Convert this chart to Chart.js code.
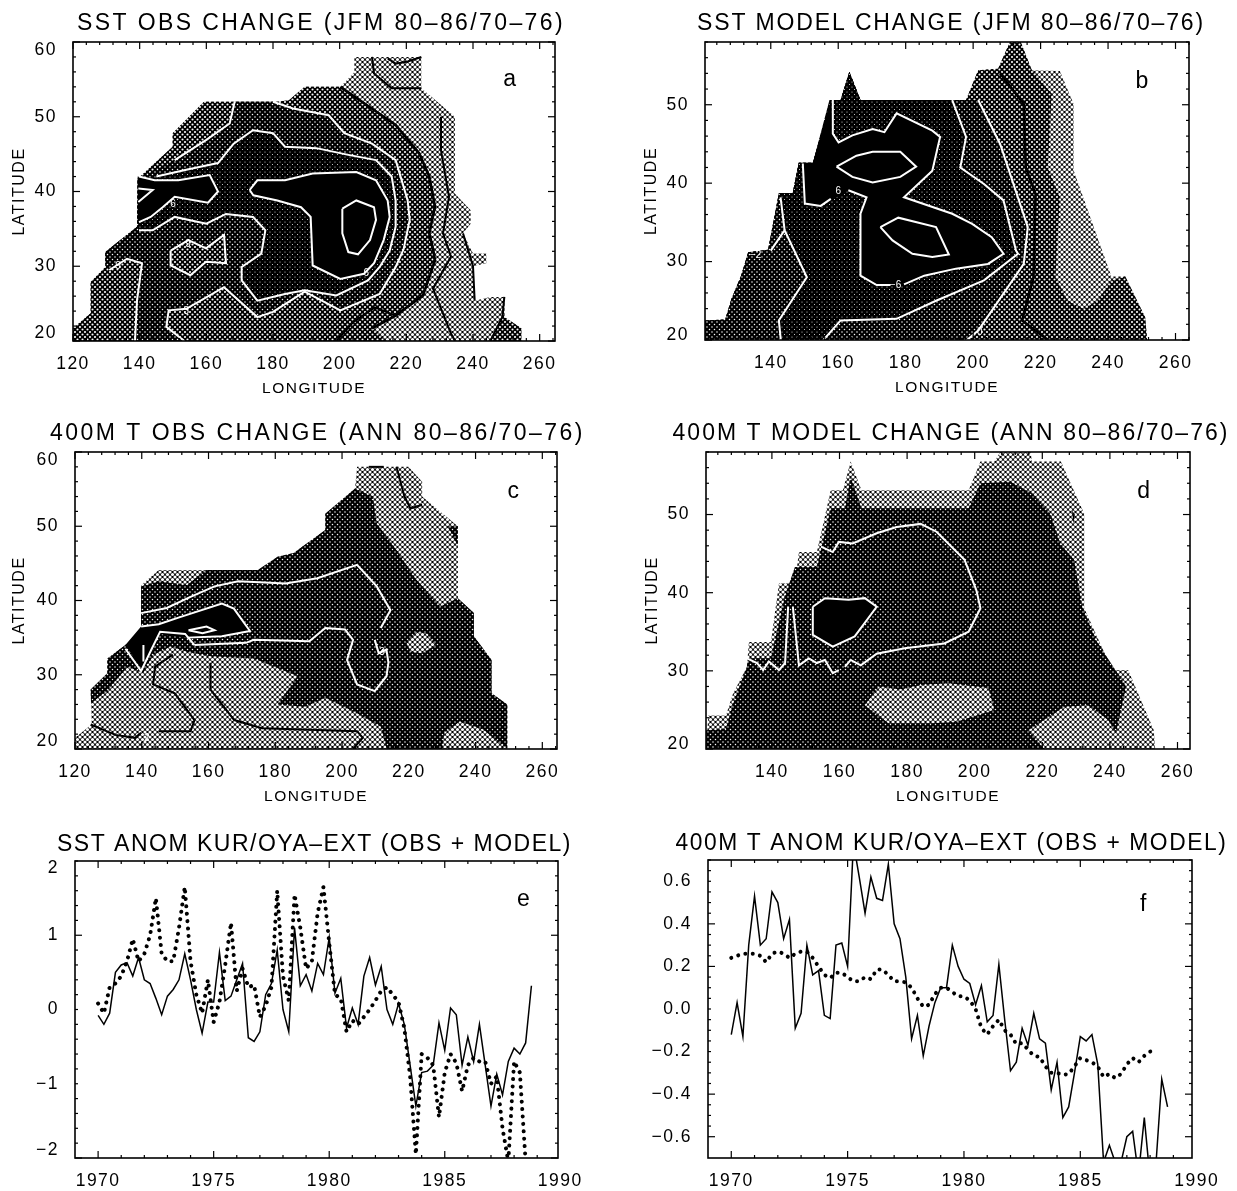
<!DOCTYPE html>
<html>
<head>
<meta charset="utf-8">
<title>SST and 400m T change</title>
<script src="https://cdn.jsdelivr.net/npm/chart.js@4"></script>
<style>
  html, body { margin: 0; padding: 0; background: #fff; overflow: hidden; }
  #page { position: relative; width: 1237px; height: 1191px; overflow: hidden; }
  canvas { position: absolute; }
</style>
</head>
<body>
<div id="page"></div>
<script>
// --- tick labels ---
const lonTicks = [120, 140, 160, 180, 200, 220, 240, 260];
const lonTicksRight = [140, 160, 180, 200, 220, 240, 260];
const latTicksLeft = [20, 30, 40, 50, 60];
const latTicksRight = [20, 30, 40, 50];
const yearTicks = [1970, 1975, 1980, 1985, 1990];
const sstTicks = [-2, -1, 0, 1, 2];
const sstTickLabels = ['\u22122', '\u22121', '0', '1', '2'];
const deepTicks = [-0.6, -0.4, -0.2, 0, 0.2, 0.4, 0.6];
const deepTickLabels = ['\u22120.6', '\u22120.4', '\u22120.2', '0.0', '0.2', '0.4', '0.6'];

// --- panel a: contour regions (lon, lat) ---
const aDomain = [[120,20],[120,21.7],[125.3,23.7],[125.3,27.9],[129.7,29.9],[129.7,31.9],[139.2,35.3],[139.4,41.7],[149.9,46],[149.9,47.8],[159.3,52],[181.3,52],[184.8,52.2],[189.5,54],[200.2,54],[204.4,56],[204.4,58],[224.5,58],[224.5,53.8],[234.6,50],[234.6,39.7],[239.3,37.5],[239.3,35.7],[237,34.4],[240,31.7],[244,31.7],[244,30.4],[240,30],[240.5,25.4],[245.2,25.9],[249.4,25.9],[249.4,23.2],[254.5,21.7],[254.5,20]];
const aLevel2 = [[120,20],[120,21.7],[125.3,23.7],[125.3,27.9],[129.7,29.9],[129.7,31.9],[139.2,35.3],[139.4,41.7],[149.9,46],[149.9,47.8],[159.3,52],[181.3,52],[184.8,52.2],[189.5,54],[200.2,54],[210.3,50.9],[216.8,48.9],[223.9,45.1],[226.9,42],[228.6,38],[226.9,34.4],[228.1,32.1],[228.6,30.8],[225,26.1],[216.8,23.4],[209.7,21.7],[214,20]];
const aBlackEdge = [[200.2,54],[210.3,50.9],[216.8,48.9],[223.9,45.1],[226.9,42],[228.6,38],[226.9,34.4],[228.1,32.1],[228.6,30.8],[225,26.1],[216.8,23.4],[209.7,21.7]];
const aCorner = [[245.2,20],[248.8,23.2],[249.4,25.9],[249.4,23.2],[254.5,21.7],[254.5,20]];
const aLevel3 = [[138.6,20],[139.2,25.4],[140.7,30.4],[136.2,31],[130.9,29.5],[129.7,30.4],[129.7,31.9],[139.2,35.3],[139.4,41.7],[150.5,44.2],[160,46.9],[167,49.1],[168.5,52],[180,52],[186,51.1],[196.7,50.2],[201.4,47.8],[209.7,46.4],[216.8,44.2],[220.4,38.8],[221,36.2],[219.2,32.3],[216.8,29.9],[212,26.3],[200.2,24.1],[189.5,26.6],[180,23.9],[175.3,23.2],[165.3,27.2],[154,24.3],[148.7,24.1],[148,21.9],[153.4,20]];
const aWhiteWest = [[138.6,20],[139.2,25.4],[140.7,30.4],[136.2,31],[130.9,29.5]];
const aWhiteNorth = [[150.5,44.2],[160,46.9],[167,49.1],[168.5,52]];
const aWhiteEast = [[180,52],[186,51.1],[196.7,50.2],[201.4,47.8],[209.7,46.4],[216.8,44.2],[220.4,38.8],[221,36.2],[219.2,32.3],[216.8,29.9],[212,26.3],[200.2,24.1],[189.5,26.6],[180,23.9],[175.3,23.2],[165.3,27.2],[154,24.3],[148.7,24.1],[148,21.9],[153.4,20]];
const aIsland = [[149.3,32.1],[154.6,33.5],[159.9,32.4],[165.3,34.2],[165.9,30.4],[159.9,30.6],[155.2,28.8],[149.3,30.1]];
const aLevel4 = [[139.4,41.7],[145,42],[154,42.9],[163.5,43.8],[168.2,46.4],[174,48.2],[180,47.8],[183.6,46],[193,45.8],[202.6,44.9],[210.9,44.2],[215.6,42],[216.8,38.8],[216.8,35.3],[215,32.1],[212,29.9],[208.5,28.1],[199,26.1],[189.5,26.8],[183.6,26.3],[175.3,25.4],[170.6,28.1],[170.6,29.9],[176.5,31.7],[177.7,34.8],[174,36.6],[165.9,37],[160,35.7],[150.5,36.6],[143.9,34.8],[139.8,34.8]];
const aWhiteLevel4 = [[145,42],[154,42.9],[163.5,43.8],[168.2,46.4],[174,48.2],[180,47.8],[183.6,46],[193,45.8],[202.6,44.9],[210.9,44.2],[215.6,42],[216.8,38.8],[216.8,35.3],[215,32.1],[212,29.9],[208.5,28.1],[199,26.1],[189.5,26.8],[183.6,26.3],[175.3,25.4],[170.6,28.1],[170.6,29.9],[176.5,31.7],[177.7,34.8],[174,36.6],[165.9,37],[160,35.7],[150.5,36.6],[143.9,34.8],[139.8,34.8]];
const aCore = [[173,40.2],[175.3,41.5],[183.6,41.5],[191.9,42.4],[205,42.6],[210.9,41.5],[214.4,38.8],[215,36.6],[213.2,33.5],[210.3,30.4],[207.3,29],[200.2,28.3],[191.9,30.1],[191.3,36.6],[188.4,37.9],[181.3,38.8],[174.1,39.5]];
const aBlob = [[139.4,42],[144.5,41.5],[151.6,41.5],[161,42.2],[163.5,40],[160.5,38.5],[150.5,39.3],[146.9,37.9],[143.3,36.6],[139.4,35.9]];
const aWhiteBlob = [[139.8,42],[144.5,41.5],[151.6,41.5],[161,42.2],[163.5,40],[160.5,38.5],[150.5,39.3],[146.9,37.9],[143.3,36.6],[139.8,35.9]];
const aInner = [[200.8,37.7],[205,38.8],[210.3,37.9],[210.9,36.2],[209.1,33.5],[205.5,31.6],[202.6,31.9],[200.8,34.4]];
const aWedge = [[139.6,40.4],[143.9,40.2],[139.6,38.6]];
const aEastLine = [[230.4,50],[230.4,45.5],[232.8,39.3],[231,34.4],[233.4,31.3],[228,27],[233.4,21],[234.6,20]];
const aNorthLine1 = [[209.7,58],[210.3,55.8],[215.6,53.8],[224.5,53.8]];
const aNorthLine2 = [[214.4,57.8],[216.8,57.1],[220.4,57.4],[224.5,58]];
const aSouthLine = [[199,20],[204,22.5],[210.5,24.5],[216.8,23.4]];
const aCoastLine = [[237,34.4],[240,30],[240.5,25.4]];
const aSeLine = [[245.2,20],[248.8,23.2],[249.4,25.9]];
const aTexts = [[150,38.3,'6'],[154.5,33,'9'],[133.5,30,'9'],[154,24,'3'],[208,29,'6']];

// --- panel b ---
const bDomain = [[120.5,19.9],[120.5,22.5],[126.5,22.6],[128.3,25.2],[131.2,28.2],[133.3,31.2],[139.2,31.5],[142.4,38.7],[146.5,38.7],[148.3,42.6],[152.5,42.6],[157.8,50.6],[160.7,50.6],[163.3,54.2],[166.6,50.6],[197.9,50.6],[201.5,54.4],[207.4,54.6],[210.9,58],[214.1,58],[217.4,54.4],[225.7,54.3],[229.8,50.1],[229.8,41.6],[241,28.1],[245.1,28.1],[251,22.9],[251.6,19.9]];
const bLevel2 = [[120.5,19.9],[120.5,22.5],[126.5,22.6],[128.3,25.2],[131.2,28.2],[133.3,31.2],[139.2,31.5],[142.4,38.7],[146.5,38.7],[148.3,42.6],[152.5,42.6],[157.8,50.6],[160.7,50.6],[163.3,54.2],[166.6,50.6],[197.9,50.6],[201.5,54.4],[207.4,54.6],[210.9,58],[214.1,58],[217.4,54.4],[223.3,51.4],[222.1,42],[225.7,38.2],[224.4,28],[228,25],[232.7,24],[236.9,25],[241,27.6],[245.1,28.1],[251,22.9],[251.6,19.9]];
const bLevel3 = [[120.5,19.9],[120.5,22.5],[126.5,22.6],[128.3,25.2],[131.2,28.2],[133.3,31.2],[139.2,31.5],[142.4,38.7],[146.5,38.7],[148.3,42.6],[152.5,42.6],[157.8,50.6],[160.7,50.6],[163.3,54.2],[166.6,50.6],[201.5,50.6],[208,45],[216.2,34.4],[215,29.7],[201.5,21.2],[197.9,19.9]];
const bLevel4 = [[193.8,50.6],[197.9,45.9],[196.2,42],[203.2,39.9],[209,37.8],[212.7,31.4],[213.3,31],[203.2,27.6],[189,25],[177.3,22.7],[160.7,22.5],[155.4,19.9],[143,19.9],[142.4,22.5],[150.7,28],[144.1,34],[142.4,38.7],[146.5,38.7],[148.3,42.6],[152.5,42.6],[157.4,50.6],[160.7,50.6],[163.3,54.2],[166.6,50.6]];
const bCore = [[157.8,50.6],[158.4,46.3],[160.1,45.2],[164.2,46.1],[170.2,46.9],[173.7,46.5],[177.3,48.9],[187.9,46.7],[190.2,45.9],[187.9,41.6],[179.5,38.2],[193.8,36.1],[199.7,34.8],[205.5,33.1],[209,31],[204.4,29.7],[194.9,29.1],[185.5,28.2],[179.5,27.1],[171.4,27],[166.6,28.2],[166.6,36.1],[168.4,38.2],[163,39.1],[159.5,38.2],[154.8,37.1],[150.1,37.4],[149.5,42.5],[152.5,42.6]];
const bWhiteCore = [[158.4,50.6],[158.4,46.3],[160.1,45.2],[164.2,46.1],[170.2,46.9],[173.7,46.5],[177.3,48.9],[187.9,46.7],[190.2,45.9],[187.9,41.6],[179.5,38.2],[193.8,36.1],[199.7,34.8],[205.5,33.1],[209,31],[204.4,29.7],[194.9,29.1],[185.5,28.2],[179.5,27.1]];
const bWhiteCore2 = [[175.5,27],[171.4,27],[166.6,28.2],[166.6,36.1],[168.4,38.2],[163,39.1]];
const bWhiteCore3 = [[157.8,38],[154.8,37.1],[150.1,37.4],[149.5,42.5]];
const bLensUpper = [[159.5,42.1],[165.4,43.5],[170.2,44],[178.4,44],[183.1,42.1],[178.4,40.8],[170.2,40.1],[164.2,40.8]];
const bLensLower = [[172.5,34.4],[177.8,35.6],[189,34.4],[192.8,30.9],[187.9,30.6],[182,31],[176.1,32.7]];
const bBlackLine = [[208,54],[215,50.1],[215.6,42],[218.5,38.6],[217.9,28],[214.5,22.5],[222.2,20]];
const bWhite1 = [[201.5,50.6],[208,45],[216.2,34.4],[215,29.7],[201.5,21.2],[197.9,19.9]];
const bWhite2 = [[193.8,50.6],[197.9,45.9],[196.2,42],[203.2,39.9],[209,37.8],[212.7,31.4],[213.3,31],[203.2,27.6],[189,25],[177.3,22.7],[160.7,22.5],[155.4,19.9]];
const bWhite3 = [[143,19.9],[142.4,22.5],[150.7,28],[144.1,34],[140,31.4]];
const bWhite4 = [[144.1,34],[142.9,38.2]];
const bTexts = [[160,39,'6'],[177,27,'\u22126'],[202,21,'0'],[135.5,30.8,'\u22122']];

// --- panel c ---
const cDomain = [[120,20],[120,21.5],[125,23.3],[124.7,28],[129.7,30.2],[129.7,32.2],[139.8,35.6],[139.8,42.1],[145.1,44.1],[174.8,44.1],[180.7,45.9],[185.5,46.4],[195,49.5],[195,51.7],[203.9,55.1],[204.5,58],[219.9,58],[224,56],[224,54],[234.7,50],[234.7,40.3],[239.5,38.3],[239.5,35.2],[244.8,32],[244.8,27.5],[249.5,26],[249.5,20]];
const cLevel2 = [[124.8,26.2],[129.7,27.8],[135.7,31.1],[140.4,30.2],[143.4,32.7],[148.7,33.8],[153.5,33.1],[160.6,32.5],[173.6,32.2],[186.7,29.8],[180.7,26],[189,25.7],[195,26.9],[204.5,24.8],[211.6,23],[213.4,20],[230,20],[230.6,22.2],[235.3,23.7],[242.4,22.6],[249.5,20],[249.5,26],[244.8,27.5],[244.8,32],[239.5,35.2],[239.5,38.3],[234.7,40.3],[229.4,39.2],[222.3,42.8],[216.3,46.8],[210.4,50.4],[209.2,54],[203.9,55.1],[195,51.7],[195,49.5],[185.5,46.4],[180.7,45.9],[174.8,44.1],[159.4,44.1],[153.5,42.1],[145.1,42.6],[139.8,41.9],[139.8,35.6],[129.7,32.2],[129.7,30.2],[124.7,28]];
const cIsland = [[219.3,34.3],[222.3,35.8],[225.2,35.6],[228.2,34],[224,32.9],[220.5,33.1]];
const cNotch = [[231.7,50],[234.7,50],[234.7,47.3]];
const cLevel3 = [[139.8,38.3],[147.5,39],[154.6,40.5],[161.8,41.9],[168.9,42.6],[183.1,42.3],[192.6,43],[204.5,44.8],[210.4,41.9],[214.5,38.7],[211.6,36.3],[209.8,34.7],[211,32.9],[213.3,33.4],[213.9,31.6],[213.3,29.8],[209.8,27.8],[204.5,28.7],[201.5,32],[203.3,34.7],[200.9,36.1],[195,36.3],[190.2,34.5],[173.6,34.7],[171.2,34.3],[155.8,34],[153.5,35],[145.1,35.5],[139.8,36.5]];
const cCore = [[139.8,36.5],[145.1,36.8],[151,37.7],[164,39.6],[167.6,38.9],[172.4,35.9],[164,35.2],[153.5,35],[145.1,35.5],[143,33],[139.8,30.9],[135.1,34]];
const cWhiteNorth = [[139.8,38.3],[147.5,39],[154.6,40.5],[161.8,41.9],[168.9,42.6],[183.1,42.3],[192.6,43],[204.5,44.8],[210.4,41.9],[214.5,38.7],[211.6,36.3]];
const cWhiteSouth = [[209.8,34.7],[211,32.9],[213.3,33.4],[213.9,31.6],[213.3,29.8],[209.8,27.8],[204.5,28.7],[201.5,32],[203.3,34.7],[200.9,36.1],[195,36.3],[190.2,34.5],[173.6,34.7],[171.2,34.3],[155.8,34]];
const cWhiteCore = [[139.8,36.5],[145.1,36.8],[151,37.7],[164,39.6],[167.6,38.9],[172.4,35.9],[164,35.2],[153.5,35]];
const cWhiteTongue = [[135.1,33.5],[139.8,30.5],[143,33.5],[145.5,35.8],[153,35.5],[155.8,34]];
const cWhiteSpike = [[140.5,34],[140.5,31.8]];
const cWhiteRing = [[154,36],[159.4,36.5],[161.8,36],[158.2,35.6],[154,36]];
const cBlack1 = [[149.3,32.7],[144,31.1],[143.4,28.7],[149.9,27.5],[155.8,23.9],[154.6,22.4],[145.1,22.4]];
const cBlack2 = [[160.6,31.6],[160.6,28],[167.7,23.9],[176,22.8],[204.5,22.4],[206.2,21.5],[203.3,20]];
const cBlack3 = [[124.7,23.3],[132.1,21.9],[138,21.5],[139.8,22.2]];
const cBlack4 = [[208,58],[212.5,58]];
const cBlack5 = [[216.3,58],[218.7,54],[220.5,52.4],[224,52.9]];
const cTexts = [[141.5,21.5,'2'],[212,33,'3']];

// --- panel d ---
const dDomain = [[120.5,20],[121.2,24.3],[126.4,24.3],[128.5,27.1],[132.6,30.5],[133.2,33.7],[139.7,33.7],[142.1,41.2],[146.8,41.2],[148,45.2],[153.3,45.2],[157.4,53.1],[161,53.1],[163.3,56.8],[166.5,53.1],[198.2,53.1],[201.7,56.8],[205.8,56.8],[207.6,58],[216.5,58],[217,56.8],[225.5,56.8],[232.4,50.1],[232.4,38],[240.7,30.1],[245.4,30.1],[253,22.4],[253.4,20]];
const dLevel2 = [[120.5,20],[120.5,22.4],[126.4,22.6],[128.5,25.8],[132.6,30.5],[133,31.6],[139.7,31.6],[143.8,39.5],[146.8,43.3],[153.3,43.3],[157.4,50.8],[161.6,50.8],[163.3,54.8],[166.5,50.8],[198.2,50.8],[201.7,54],[210.6,54.2],[217,52.7],[222.4,50.1],[225.3,46.3],[229.4,44.2],[231.8,38.2],[235.9,33.9],[244.8,28],[241.8,22],[239.5,23.7],[233.6,25.6],[226.5,25.4],[215.9,22.4],[220.6,20]];
const dIsland = [[167.5,25.6],[171.6,28],[178,27.6],[184,28.2],[192.3,28.4],[204.1,27.8],[205.8,25],[194.6,23.5],[187.5,23.3],[174.5,23.3]];
const dCore = [[152.1,38.2],[155.7,39.3],[162.7,39.1],[167.5,39.3],[171,38.2],[164.5,34.4],[158,33.1],[152.1,34.6]];
const dSpot = [[228.8,50.5],[229.6,50],[229.2,48.8]];
const dWhiteLine = [[154.5,45.9],[158,45.2],[159.8,46.5],[163.9,46.3],[171,47.6],[176.9,48.4],[184,48.8],[188.7,47.8],[197,44.2],[200.5,40.3],[201.7,38],[198.2,35],[191,33.5],[179.3,32.9],[171,32.2],[166.3,30.7],[163.3,31.4],[161.6,30.5]];
const dWhiteSquiggle = [[159.8,30.1],[158,29.7],[155.7,31.4],[153.3,31],[150.9,31.6],[148,30.7],[146.2,38.2]];
const dWhiteSquiggle2 = [[144.8,38.2],[143.9,31],[142.1,30.1],[139.1,31.2],[137.4,30.1],[135.6,31],[132.6,31.6]];

// --- panel e: quarterly anomalies ---
const quarters = [1970,1970.25,1970.5,1970.75,1971,1971.25,1971.5,1971.75,1972,1972.25,1972.5,1972.75,1973,1973.25,1973.5,1973.75,1974,1974.25,1974.5,1974.75,1975,1975.25,1975.5,1975.75,1976,1976.25,1976.5,1976.75,1977,1977.25,1977.5,1977.75,1978,1978.25,1978.5,1978.75,1979,1979.25,1979.5,1979.75,1980,1980.25,1980.5,1980.75,1981,1981.25,1981.5,1981.75,1982,1982.25,1982.5,1982.75,1983,1983.25,1983.5,1983.75,1984,1984.25,1984.5,1984.75,1985,1985.25,1985.5,1985.75,1986,1986.25,1986.5,1986.75,1987,1987.25,1987.5,1987.75,1988,1988.25,1988.5,1988.75];
const sstObs = [-0.08,-0.2,-0.05,0.5,0.6,0.63,0.45,0.7,0.4,0.35,0.15,-0.07,0.18,0.27,0.4,0.75,0.4,0,-0.32,0.1,0.1,0.77,0.12,0.18,0.4,0.62,-0.38,-0.43,-0.3,0.2,0.35,0.8,0,-0.3,1.1,0.32,0.47,0.25,0.62,0.47,0.97,0.22,0.42,-0.25,0.02,-0.2,0.45,0.7,0.33,0.58,0,-0.2,0.08,-0.2,-0.75,-1.3,-0.85,-0.83,-0.75,-0.18,-0.55,0.02,-0.07,-0.75,-0.37,-0.7,-0.2,-0.75,-1.3,-0.87,-1.15,-0.7,-0.52,-0.6,-0.45,0.32];
const sstModel = [0.08,-0.05,0.3,0.35,0.45,0.65,0.95,0.65,0.75,1,1.5,0.75,0.65,0.65,1.1,1.65,0.65,0.2,-0.05,0.4,-0.17,0.1,0.6,1.17,0.25,0.55,0.3,0.33,-0.1,0.05,0.3,1.6,0.45,0.12,1.55,1.1,0.55,0.65,1.3,1.65,0.9,0.2,0.15,-0.3,-0.15,-0.2,-0.1,0,0.12,0.25,0.3,0.2,0.1,-0.25,-0.9,-1.95,-0.6,-0.65,-0.75,-1.45,-0.85,-0.6,-0.72,-1.1,-0.75,-0.65,-0.7,-0.7,-1,-0.9,-1.6,-2.05,-0.7,-0.85,-2.05];

// --- panel f ---
const deepObs = [-0.12,0.03,-0.13,0.3,0.53,0.3,0.33,0.55,0.5,0.33,0.42,-0.09,-0.02,0.3,0.16,0.18,-0.03,-0.045,0.3,0.31,0.2,0.78,0.62,0.45,0.62,0.52,0.51,0.68,0.4,0.33,0.15,-0.14,-0.03,-0.22,-0.08,0.03,0.1,0.1,0.3,0.2,0.14,0.12,0.02,0.11,-0.06,-0.03,0.21,-0.05,-0.29,-0.25,-0.09,-0.17,-0.02,-0.14,-0.16,-0.38,-0.25,-0.51,-0.46,-0.3,-0.13,-0.15,-0.12,-0.26,-0.72,-0.64,-0.72,-0.72,-0.6,-0.575,-0.78,-0.51,-0.8,-0.73,-0.33,-0.46];
const deepModel = [0.24,0.25,0.26,0.26,0.26,0.25,0.22,0.26,0.27,0.26,0.24,0.26,0.27,0.27,0.24,0.2,0.16,0.145,0.17,0.17,0.15,0.13,0.13,0.15,0.14,0.185,0.185,0.16,0.13,0.13,0.125,0.1,0.05,0.01,0.02,0.07,0.1,0.1,0.08,0.06,0.06,0.04,0,-0.09,-0.12,-0.08,-0.05,-0.1,-0.12,-0.165,-0.16,-0.19,-0.22,-0.225,-0.27,-0.3,-0.3,-0.31,-0.305,-0.27,-0.23,-0.24,-0.25,-0.27,-0.32,-0.305,-0.325,-0.305,-0.26,-0.23,-0.25,-0.22,-0.2,-0.19];

// halftone screens, lightest first
function screen(r) {
  const c = document.createElement('canvas');
  c.width = c.height = 5;
  const g = c.getContext('2d');
  g.fillStyle = '#000';
  g.fillRect(0, 0, 5, 5);
  g.fillStyle = '#fff';
  [[0, 0], [5, 0], [0, 5], [5, 5], [2.5, 2.5]].forEach(([x, y]) => {
    g.beginPath();
    g.arc(x, y, r, 0, Math.PI * 2);
    g.fill();
  });
  return g.createPattern(c, 'repeat');
}
const L1 = screen(1.55), L2 = screen(1.05), L3 = screen(0.78), L4 = screen(0.5), SOLID = '#000';

const pts = arr => arr.map(([x, y]) => ({ x, y }));
const closed = arr => pts(arr.concat([arr[0]]));

function area(arr, bg, stroke) {
  return { data: closed(arr), backgroundColor: bg, fill: 'shape', showLine: true, pointRadius: 0,
           borderColor: stroke || 'transparent', borderWidth: stroke ? 2 : 0 };
}
function contour(arr, color, width) {
  return { data: pts(arr), borderColor: color, borderWidth: width || 2, fill: false, showLine: true, pointRadius: 0 };
}
function series(ys, dotted) {
  const data = ys.map((y, i) => ({ x: quarters[i], y }));
  return dotted
    ? { data, borderColor: '#000', borderWidth: 4, borderDash: [0.01, 7.4], borderCapStyle: 'round', fill: false, showLine: true, pointRadius: 0 }
    : { data, borderColor: '#000', borderWidth: 1.5, fill: false, showLine: true, pointRadius: 0 };
}

// inward ticks on all four sides, frame, panel letter and contour labels
const framePlugin = {
  id: 'frame',
  beforeDraw(chart) {
    chart.ctx.letterSpacing = '1.5px';
  },
  afterLayout(chart) {
    // title text is spread out to the width it has in the figure
    const t = chart.titleBlock, p = chart.options.plugins.frame;
    if (!t || t.spread) return;
    t.spread = true;
    const draw = t.draw;
    t.draw = function () {
      const c = this.ctx;
      c.save();
      c.font = '23px "Liberation Sans"';
      c.letterSpacing = '0px';
      const text = this.options.text;
      const w = c.measureText(text).width;
      c.letterSpacing = ((p.titleSpan[1] - p.titleSpan[0] - w) / text.length) + 'px';
      c.translate((p.titleSpan[0] + p.titleSpan[1]) / 2 - p.boxCenter, 0);
      draw.call(this);
      c.restore();
    };
  },
  afterDatasetsDraw(chart) {
    const p = chart.options.plugins.frame;
    const { ctx, chartArea: a, scales: { x, y } } = chart;
    ctx.save();
    ctx.strokeStyle = '#000';
    ctx.lineWidth = 1.6;
    ctx.strokeRect(a.left, a.top, a.right - a.left, a.bottom - a.top);
    ctx.lineWidth = 1.2;
    const tick = (x0, y0, x1, y1) => { ctx.beginPath(); ctx.moveTo(x0, y0); ctx.lineTo(x1, y1); ctx.stroke(); };
    for (let v = p.xFrom; v <= x.max; v += p.xStep) {
      const len = Math.abs((v - p.xFrom) / p.xStep % p.xEvery) < 1e-6 ? 7 : 3;
      const px = x.getPixelForValue(v);
      if (v < x.min) continue;
      tick(px, a.bottom, px, a.bottom - len);
      tick(px, a.top, px, a.top + len);
    }
    for (let v = p.yFrom; v <= y.max + 1e-6; v += p.yStep) {
      const len = Math.abs(((v - p.yFrom) / p.yStep) % p.yEvery) < 1e-6 ? 7 : 3;
      const py = y.getPixelForValue(v);
      tick(a.left, py, a.left + len, py);
      tick(a.right, py, a.right - len, py);
    }
    ctx.textAlign = 'center';
    ctx.textBaseline = 'middle';
    ctx.letterSpacing = '0px';
    ctx.fillStyle = '#000';
    ctx.font = '23px "Liberation Sans"';
    ctx.fillText(p.letter[0], x.getPixelForValue(p.letter[1]), y.getPixelForValue(p.letter[2]));
    ctx.fillStyle = '#fff';
    ctx.font = '10px "Liberation Sans"';
    (p.texts || []).forEach(([lon, lat, t]) => ctx.fillText(t, x.getPixelForValue(lon), y.getPixelForValue(lat)));
    ctx.restore();
  }
};

const panels = [
  { title: 'SST OBS CHANGE (JFM 80\u201386/70\u201376)', left: 0, width: 620, plot: [73, 555, 42, 341], titleSpan: [77, 565], titleTop: 8,
    xr: [120, 264.6], yr: [20, 60], xt: lonTicks, yt: latTicksLeft, nudge: 1.1, xTitle: 'LONGITUDE', yTitle: 'LATITUDE',
    frame: { xFrom: 120, xStep: 4, xEvery: 5, yFrom: 20, yStep: 2, yEvery: 5, letter: ['a', 251, 55], texts: aTexts },
    layers: [area(aDomain, L1), area(aLevel2, L2), area(aCorner, L2), area(aLevel3, L3), area(aIsland, L2, '#fff'), area(aLevel4, L4), area(aCore, SOLID, '#fff'), area(aBlob, SOLID), area(aInner, SOLID, '#fff'),
      contour(aWhiteWest, '#fff'), contour(aWhiteNorth, '#fff'), contour(aWhiteEast, '#fff'), contour(aWhiteLevel4, '#fff'), contour(aWhiteBlob, '#fff'), contour(aWedge, '#fff'),
      contour(aBlackEdge, '#000', 2.6), contour(aEastLine, '#000', 2), contour(aNorthLine1, '#000', 2), contour(aNorthLine2, '#000', 2), contour(aSouthLine, '#000', 2), contour(aCoastLine, '#000', 2), contour(aSeLine, '#000', 2)] },
  { title: 'SST MODEL CHANGE (JFM 80\u201386/70\u201376)', left: 632, width: 605, plot: [705, 1189, 42, 340], titleSpan: [697, 1205], titleTop: 8,
    xr: [120.5, 264], yr: [20, 58], xt: lonTicksRight, yt: latTicksRight, nudge: 0.6, xTitle: 'LONGITUDE', yTitle: 'LATITUDE',
    frame: { xFrom: 120, xStep: 4, xEvery: 5, yFrom: 20, yStep: 2, yEvery: 5, letter: ['b', 250, 52.9], texts: bTexts },
    layers: [area(bDomain, L1), area(bLevel2, L2), area(bLevel3, L3), area(bLevel4, L4), area(bCore, SOLID), area(bLensUpper, SOLID, '#fff'), area(bLensLower, SOLID, '#fff'),
      contour(bWhiteCore, '#fff'), contour(bWhiteCore2, '#fff'), contour(bWhiteCore3, '#fff'),
      contour(bBlackLine, '#000', 2.5), contour(bWhite1, '#fff'), contour(bWhite2, '#fff'), contour(bWhite3, '#fff'), contour(bWhite4, '#fff')] },
  { title: '400M T OBS CHANGE (ANN 80\u201386/70\u201376)', left: 0, width: 620, plot: [75, 557, 452, 749], titleSpan: [50, 585], titleTop: 8,
    xr: [120, 264.4], yr: [20, 60], xt: lonTicks, yt: latTicksLeft, nudge: 1.1, xTitle: 'LONGITUDE', yTitle: 'LATITUDE',
    frame: { xFrom: 120, xStep: 4, xEvery: 5, yFrom: 20, yStep: 2, yEvery: 5, letter: ['c', 251.3, 54.7], texts: cTexts },
    layers: [area(cDomain, L1), area(cLevel2, L3), area(cIsland, L1), area(cNotch, L3), area(cLevel3, L3), area(cCore, SOLID),
      contour(cWhiteNorth, '#fff'), contour(cWhiteSouth, '#fff'), contour(cWhiteCore, '#fff'), contour(cWhiteTongue, '#fff'), contour(cWhiteSpike, '#fff'), contour(cWhiteRing, '#fff'),
      contour(cBlack1, '#000', 2), contour(cBlack2, '#000', 2), contour(cBlack3, '#000', 2), contour(cBlack4, '#000', 2), contour(cBlack5, '#000', 2)] },
  { title: '400M T MODEL CHANGE (ANN 80\u201386/70\u201376)', left: 633, width: 604, plot: [706, 1190, 452, 749], titleSpan: [672, 1230], titleTop: 8,
    xr: [120.5, 263.7], yr: [20, 58], xt: lonTicksRight, yt: latTicksRight, nudge: 0.6, xTitle: 'LONGITUDE', yTitle: 'LATITUDE',
    frame: { xFrom: 120, xStep: 4, xEvery: 5, yFrom: 20, yStep: 2, yEvery: 5, letter: ['d', 250, 52.9] },
    layers: [area(dDomain, L1), area(dLevel2, L3), area(dIsland, L1), area(dCore, SOLID, '#fff'), area(dSpot, SOLID),
      contour(dWhiteLine, '#fff'), contour(dWhiteSquiggle, '#fff'), contour(dWhiteSquiggle2, '#fff')] },
  { title: 'SST ANOM KUR/OYA\u2013EXT (OBS + MODEL)', left: 0, width: 620, plot: [75, 558, 861, 1158], titleSpan: [57, 572], titleTop: 10,
    xr: [1969, 1989.9], yr: [-2, 2], xt: yearTicks, yt: sstTicks, ytLabels: sstTickLabels, nudge: 0.1,
    frame: { xFrom: 1970, xStep: 1, xEvery: 5, yFrom: -2, yStep: 0.2, yEvery: 5, letter: ['e', 1988.4, 1.48] },
    layers: [series(sstObs), series(sstModel, true)] },
  { title: '400M T ANOM KUR/OYA\u2013EXT (OBS + MODEL)', left: 640, width: 597, plot: [708, 1192, 860, 1158], titleSpan: [673, 1230], titleTop: 10,
    xr: [1969, 1989.8], yr: [-0.7, 0.7], xt: yearTicks, yt: deepTicks, ytLabels: deepTickLabels, nudge: 0,
    frame: { xFrom: 1970, xStep: 1, xEvery: 5, yFrom: -0.6, yStep: 0.05, yEvery: 4, letter: ['f', 1987.7, 0.49] },
    layers: [series(deepObs), series(deepModel, true)] }
];

const TITLE_H = 40, AXIS_H = 57;
panels.forEach(p => {
  const [pl, pr, pt, pb] = p.plot;
  const canvas = document.createElement('canvas');
  canvas.width = p.width;
  canvas.height = TITLE_H + (pb - pt) + AXIS_H;
  canvas.style.left = p.left + 'px';
  canvas.style.top = (pt - TITLE_H) + 'px';
  document.getElementById('page').appendChild(canvas);

  const n = p.layers.length;
  p.layers.forEach((d, i) => { d.order = n - i; });

  // titleSpan in canvas coordinates, and the centre the title box would use by itself
  p.frame.titleSpan = [p.titleSpan[0] - p.left, p.titleSpan[1] - p.left];
  p.frame.boxCenter = (pr - p.left) / 2;

  new Chart(canvas, {
    type: 'scatter',
    data: { datasets: p.layers },
    plugins: [framePlugin],
    options: {
      responsive: false,
      animation: false,
      layout: { padding: { right: p.left + p.width - pr } },
      plugins: {
        legend: { display: false },
        tooltip: { enabled: false },
        title: { display: true, text: p.title, color: '#000', font: { family: 'Liberation Sans', size: 23, weight: 'normal', lineHeight: 1.2 }, padding: { top: p.titleTop, bottom: 40 - 27.6 - p.titleTop } },
        frame: p.frame
      },
      scales: {
        x: {
          type: 'linear', min: p.xr[0], max: p.xr[1],
          grid: { display: false }, border: { display: false },
          afterBuildTicks: ax => { ax.ticks = p.xt.map(value => ({ value })); },
          afterFit: ax => { ax.height = AXIS_H; },
          ticks: { autoSkip: false, maxRotation: 0, padding: 5, color: '#000', font: { family: 'Liberation Sans', size: 17.5 }, callback: v => String(v) },
          title: { display: !!p.xTitle, text: p.xTitle, color: '#000', font: { family: 'Liberation Sans', size: 15.5 }, padding: 0 }
        },
        y: {
          type: 'linear', min: p.yr[0], max: p.yr[1],
          grid: { display: false }, border: { display: false },
          afterBuildTicks: ax => {
            ax.ticks = p.yt.map(v => ({ value: v === p.yr[0] ? v + p.nudge : v === p.yr[1] ? v - p.nudge : v }));
          },
          afterFit: ax => { ax.width = pl - p.left; },
          ticks: { autoSkip: false, padding: 8, color: '#000', font: { family: 'Liberation Sans', size: 17.5 },
                   callback: (v, i) => p.ytLabels ? p.ytLabels[i] : String(p.yt[i]) },
          title: { display: !!p.yTitle, text: p.yTitle, color: '#000', font: { family: 'Liberation Sans', size: 16 }, padding: { top: 10, bottom: 0 } }
        }
      }
    }
  });
});
</script>
</body>
</html>
